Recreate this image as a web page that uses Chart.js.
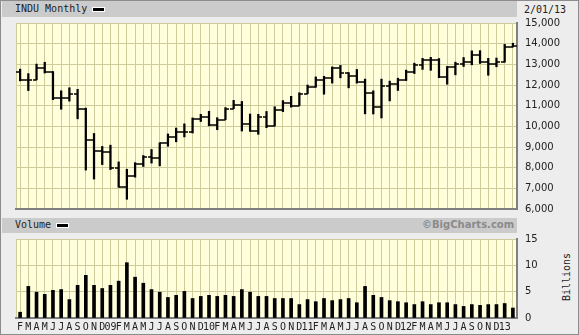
<!DOCTYPE html>
<html>
<head>
<meta charset="utf-8">
<script src="https://cdn.jsdelivr.net/npm/chart.js@4"></script>
<style>
body { margin: 0; }
#wrap { position: relative; width: 579px; height: 335px; background: #ededed; overflow: hidden;
        border: 1px solid #8c8c8c; box-sizing: border-box;
        font-family: "DejaVu Sans Mono", monospace; font-size: 10px; color: #222; }
.band { position: absolute; left: 1px; width: 515px; background: #cbcbcb; }
.lbl { position: absolute; line-height: 12px; white-space: nowrap; }
.swatch { position: absolute; width: 11px; height: 3px; background: #000; border: 1px solid #fff; }
canvas { position: absolute; left: 0; top: 0; }
</style>
</head>
<body>
<div id="wrap">
  <div class="band" style="top:0px;height:16px"></div>
  <div class="lbl" style="left:14px;top:2px">INDU Monthly</div>
  <div class="swatch" style="left:91px;top:6px"></div>
  <div class="lbl" style="left:523px;top:3px">2/01/13</div>

  <div class="band" style="top:217px;height:15px"></div>
  <div class="lbl" style="left:14px;top:218px">Volume</div>
  <div class="swatch" style="left:55px;top:222px"></div>
  <div class="lbl" style="left:421px;top:218px;font-family:'DejaVu Sans',sans-serif;font-weight:bold;color:#8a8a8a">©BigCharts.com</div>
  <div class="lbl" style="left:542px;top:270px;transform:rotate(-90deg);transform-origin:center">Billions</div>

  <canvas id="priceChart" width="579" height="335"></canvas>
  <canvas id="volumeChart" width="579" height="335"></canvas>
</div>

<script>
// month ticks, Feb 2008 .. Feb 2013 (January shows the year)
const monthLabels = [
  'F','M','A','M','J','J','A','S','O','N','D','09',
  'F','M','A','M','J','J','A','S','O','N','D','10',
  'F','M','A','M','J','J','A','S','O','N','D','11',
  'F','M','A','M','J','J','A','S','O','N','D','12',
  'F','M','A','M','J','J','A','S','O','N','D','13',
  ''
];

// INDU monthly OHLC
const opens = [
  12650, 12266, 12263, 12820, 12638, 11350, 11378, 11544, 10851, 9325, 8829, 8776,
  8001, 7063, 7609, 8168, 8500, 8447, 9172, 9496, 9712, 9713, 10345, 10428,
  10067, 10325, 10857, 11009, 10137, 9774, 10466, 10015, 10788, 11118, 11006, 11578,
  11892, 12226, 12320, 12811, 12570, 12414, 12143, 11614, 10913, 11955, 12046, 12218,
  12633, 12952, 13212, 13214, 12393, 12880, 13009, 13091, 13437, 13096, 13026, 13104,
  13861
];
const highs = [
  12767, 12550, 13010, 13100, 12650, 11720, 11867, 11790, 10882, 9654, 9026, 9088,
  8280, 7924, 8242, 8588, 8878, 9201, 9630, 9918, 10120, 10406, 10580, 10729,
  10418, 10907, 11258, 11205, 10594, 10580, 10720, 10948, 11247, 11451, 11625, 11998,
  12391, 12419, 12876, 12950, 12600, 12753, 12285, 11717, 12284, 12188, 12330, 12721,
  13056, 13289, 13338, 13280, 12898, 13103, 13330, 13653, 13662, 13290, 13305, 13970,
  14020
];
const lows = [
  12200, 11731, 12250, 12580, 11290, 10827, 11220, 10365, 7882, 7449, 8149, 7909,
  7053, 6470, 7540, 8057, 8221, 8087, 9036, 9252, 9488, 9678, 10233, 10025,
  9836, 10325, 10853, 9774, 9757, 9614, 9936, 10015, 10712, 10929, 11006, 11578,
  11892, 11555, 12093, 12348, 11862, 12093, 10604, 10597, 10405, 11231, 11735, 12218,
  12555, 12756, 12710, 12355, 12036, 12492, 12898, 12977, 13042, 12471, 12883, 13104,
  13840
];
const closes = [
  12266, 12263, 12820, 12638, 11350, 11378, 11544, 10851, 9325, 8829, 8776, 8001,
  7063, 7609, 8168, 8500, 8447, 9172, 9496, 9712, 9713, 10345, 10428, 10067,
  10325, 10857, 11009, 10137, 9774, 10466, 10015, 10788, 11118, 11006, 11578, 11892,
  12226, 12320, 12811, 12570, 12414, 12143, 11614, 10913, 11955, 12046, 12218, 12633,
  12952, 13212, 13214, 12393, 12880, 13009, 13091, 13437, 13096, 13026, 13104, 13861,
  13880
];

// monthly volume, billions of shares
const volumes = [
  1.1, 6.0, 4.9, 4.5, 5.25, 5.4, 3.5, 6.2, 8.1, 6.2, 5.6, 6.2,
  7.0, 10.5, 7.75, 6.6, 5.4, 4.9, 3.9, 4.3, 5.05, 3.7, 4.1, 4.3,
  4.1, 4.3, 4.1, 5.4, 4.9, 4.1, 4.1, 3.7, 3.7, 3.7, 2.55, 3.5,
  3.1, 3.7, 3.3, 3.5, 3.7, 2.9, 6.0, 4.3, 3.9, 3.3, 3.1, 2.9,
  2.55, 3.1, 2.55, 2.9, 2.9, 2.55, 2.2, 2.55, 2.4, 2.55, 2.55, 2.75,
  1.9
];

const priceTicks = { min: 6000, max: 15000, step: 1000 };
const volumeTicks = { min: 0, max: 15, step: 5 };

const gridColor = '#cfcc9c';
const frameColor = '#7f7f7f';
const tickFont = { family: 'DejaVu Sans', size: 10 };

// pale plot background + top/left edge of the frame
const plotBg = {
  id: 'plotBg',
  beforeDraw(chart) {
    const { ctx, chartArea: a } = chart;
    ctx.save();
    ctx.fillStyle = '#ffffdc';
    ctx.fillRect(a.left, a.top, a.width, a.height);
    ctx.strokeStyle = gridColor;
    ctx.lineWidth = 1;
    ctx.beginPath();
    ctx.moveTo(a.left + 0.5, a.bottom);
    ctx.lineTo(a.left + 0.5, a.top + 0.5);
    ctx.lineTo(a.right, a.top + 0.5);
    ctx.stroke();
    ctx.restore();
  }
};

// open tick sticks out left, close tick right
function tickImage(side) {
  const c = document.createElement('canvas');
  c.width = 8; c.height = 2;
  const g = c.getContext('2d');
  g.fillStyle = '#000';
  g.fillRect(side === 'left' ? 0 : 4, 0.25, 4, 1.5);
  return c;
}

const rightAxis = (lim, fmt) => ({
  position: 'right',
  min: lim.min, max: lim.max,
  ticks: { stepSize: lim.step, padding: 8, color: '#222', font: tickFont, callback: fmt },
  grid: { color: gridColor, drawTicks: false },
  border: { color: frameColor, width: 2 },
  afterFit: s => { s.width = 63; }
});

const common = {
  responsive: false,
  animation: false,
  events: [],
  plugins: { legend: { display: false }, tooltip: { enabled: false } }
};

new Chart(document.getElementById('priceChart'), {
  type: 'bar',
  data: {
    labels: monthLabels,
    datasets: [
      { data: highs.map((h, i) => [lows[i], h]), backgroundColor: '#000', barThickness: 1.6 },
      { type: 'line', data: opens, showLine: false, pointStyle: tickImage('left'), pointRadius: 3 },
      { type: 'line', data: closes, showLine: false, pointStyle: tickImage('right'), pointRadius: 3 }
    ]
  },
  options: {
    ...common,
    layout: { padding: { left: 15, top: 22, right: 0, bottom: 127 } },
    scales: {
      x: {
        grid: { color: gridColor, offset: false, drawTicks: false },
        ticks: { display: false },
        border: { color: frameColor, width: 2 },
        afterFit: s => { s.height = 0; }
      },
      y: rightAxis(priceTicks, v => v.toLocaleString('en-US'))
    }
  },
  plugins: [plotBg]
});

new Chart(document.getElementById('volumeChart'), {
  type: 'bar',
  data: {
    labels: monthLabels,
    datasets: [{ data: volumes, backgroundColor: '#000', barThickness: 3 }]
  },
  options: {
    ...common,
    layout: { padding: { left: 15, top: 238, right: 0, bottom: 4 } },
    scales: {
      x: {
        grid: { color: gridColor, offset: false, drawTicks: false },
        ticks: { autoSkip: false, maxRotation: 0, minRotation: 0, padding: 3, color: '#222',
                 font: { family: 'DejaVu Sans Mono', size: 10 } },
        border: { color: frameColor, width: 2 },
        afterFit: s => { s.height = 14; }
      },
      y: rightAxis(volumeTicks, v => String(v))
    }
  },
  plugins: [plotBg]
});
</script>
</body>
</html>
